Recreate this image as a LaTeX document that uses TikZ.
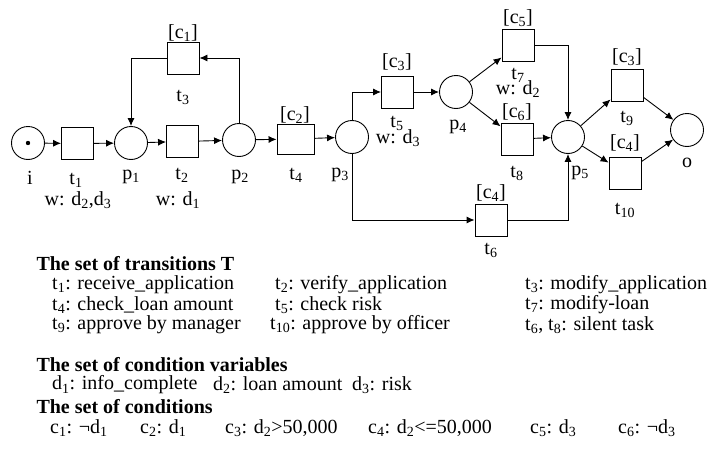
\documentclass[tikz,border=0pt]{standalone}
\usepackage{fontspec}
\setmainfont{Liberation Serif}
\usetikzlibrary{arrows.meta, positioning}
\newcommand{\ix}[1]{\textsubscript{#1}}

\begin{document}
\begin{tikzpicture}[
  x=1pt, y=-1pt,
  font=\fontsize{20}{24}\selectfont,
  place/.style={draw, circle, minimum size=33pt, inner sep=0pt, line width=0.9pt},
  trans/.style={draw, minimum width=32pt, minimum height=32pt, inner sep=0pt, line width=0.9pt},
  arc/.style={-{Latex[length=8pt, width=7pt]}, line width=0.9pt},
  head/.style={font=\fontsize{20}{24}\selectfont\bfseries, anchor=west},
  item/.style={anchor=west, inner sep=0pt}
]
\useasboundingbox (0,0) rectangle (710,455);

% places
\node[place] (i) at (28,143) {};
\fill (i) circle (2.2pt);
\node[place] (p1) at (131,143) {};
\node[place] (p2) at (239,140) {};
\node[place] (p3) at (352,137) {};
\node[place] (p4) at (456,92) {};
\node[place] (p5) at (568,137) {};
\node[place] (o) at (687,130) {};

% transitions
\node[trans] (t1) at (77.5,143.5) {};
\node[trans] (t2) at (182.5,141.5) {};
\node[trans] (t3) at (183,58) {};
\node[trans, minimum width=37pt, minimum height=30pt] (t4) at (295.5,139) {};
\node[trans] (t5) at (397.5,92) {};
\node[trans] (t6) at (491,220) {};
\node[trans] (t7) at (518,45) {};
\node[trans] (t8) at (517,139) {};
\node[trans] (t9) at (627,85) {};
\node[trans] (t10) at (625,173) {};

% labels
\node (li) at (30,178) {i};
\node (lp1) at (131,177) {p\ix{1}};
\node (lp2) at (240,177) {p\ix{2}};
\node (lp3) at (340,175) {p\ix{3}};
\node (lp4) at (458,127) {p\ix{4}};
\node (lp5) at (580,173) {p\ix{5}};
\node (lo) at (687,163) {o};
\node (lt1) at (76,180) {t\ix{1}};
\node (wt1) at (78,200) {w: d\ix{2},d\ix{3}};
\node (lt2) at (182,175) {t\ix{2}};
\node (wt2) at (178,200) {w: d\ix{1}};
\node (lt3) at (183,97) {t\ix{3}};
\node (ct3) at (183,33) {[c\ix{1}]};
\node (lt4) at (296,175) {t\ix{4}};
\node (ct4) at (295,115) {[c\ix{2}]};
\node (lt5) at (397,123) {t\ix{5}};
\node (wt5) at (398,138) {w: d\ix{3}};
\node (ct5) at (397,62) {[c\ix{3}]};
\node (lt6) at (491,250) {t\ix{6}};
\node (ct6) at (491,193) {[c\ix{4}]};
\node (lt7) at (518,75) {t\ix{7}};
\node (wt7) at (518,89) {w: d\ix{2}};
\node (ct7) at (518,18) {[c\ix{5}]};
\node (lt8) at (517,173) {t\ix{8}};
\node (ct8) at (517,112) {[c\ix{6}]};
\node (lt9) at (627,118) {t\ix{9}};
\node (ct9) at (627,57) {[c\ix{3}]};
\node (lt10) at (625,210) {t\ix{10}};
\node (ct10) at (625,143) {[c\ix{4}]};

% arcs
\draw[arc] (i) -- (t1);
\draw[arc] (t1) -- (p1);
\draw[arc] (p1) -- (t2);
\draw[arc] (t2) -- (p2);
\draw[arc] (p2) |- (t3);
\draw[arc] (t3) -| (p1);
\draw[arc] (p2) -- (t4);
\draw[arc] (t4) -- (p3);
\draw[arc] (p3) |- (t5);
\draw[arc] (p3) |- (t6);
\draw[arc] (t5) -- (p4);
\draw[arc] (p4) -- (t7);
\draw[arc] (p4) -- (t8);
\draw[arc] (t7) -| (p5);
\draw[arc] (t8) -- (p5);
\draw[arc] (t6) -| (p5);
\draw[arc] (p5) -- (t9);
\draw[arc] (p5) -- (t10);
\draw[arc] (t9) -- (o);
\draw[arc] (t10) -- (o);

% the sets
\node[head] (hT) at (33,264) {The set of transitions T};
\node[item] (r1a) at (52,285) {t\ix{1}: receive\_application};
\node[item] (r1b) at (275,285) {t\ix{2}: verify\_application};
\node[item] (r1c) at (525,285) {t\ix{3}: modify\_application};
\node[item] (r2a) at (52,305) {t\ix{4}: check\_loan amount};
\node[item] (r2b) at (275,305) {t\ix{5}: check risk};
\node[item] (r2c) at (525,305) {t\ix{7}: modify-loan};
\node[item] (r3a) at (52,325) {t\ix{9}: approve by manager};
\node[item] (r3b) at (270,325) {t\ix{10}: approve by officer};
\node[item] (r3c) at (525,325) {t\ix{6}, t\ix{8}: silent task};

\node[head] (hD) at (33,365) {The set of condition variables};
\node[item] (d1) at (52,385) {d\ix{1}: info\_complete};
\node[item] (d2) at (213,385) {d\ix{2}: loan amount};
\node[item] (d3) at (352,385) {d\ix{3}: risk};

\node[head] (hC) at (33,407) {The set of conditions};
\node[item] (c1) at (50,428) {c\ix{1}: ¬d\ix{1}};
\node[item] (c2) at (140,428) {c\ix{2}: d\ix{1}};
\node[item] (c3) at (225,428) {c\ix{3}: d\ix{2}>50,000};
\node[item] (c4) at (368,428) {c\ix{4}: d\ix{2}<=50,000};
\node[item] (c5) at (530,428) {c\ix{5}: d\ix{3}};
\node[item] (c6) at (618,428) {c\ix{6}: ¬d\ix{3}};
\end{tikzpicture}
\end{document}
